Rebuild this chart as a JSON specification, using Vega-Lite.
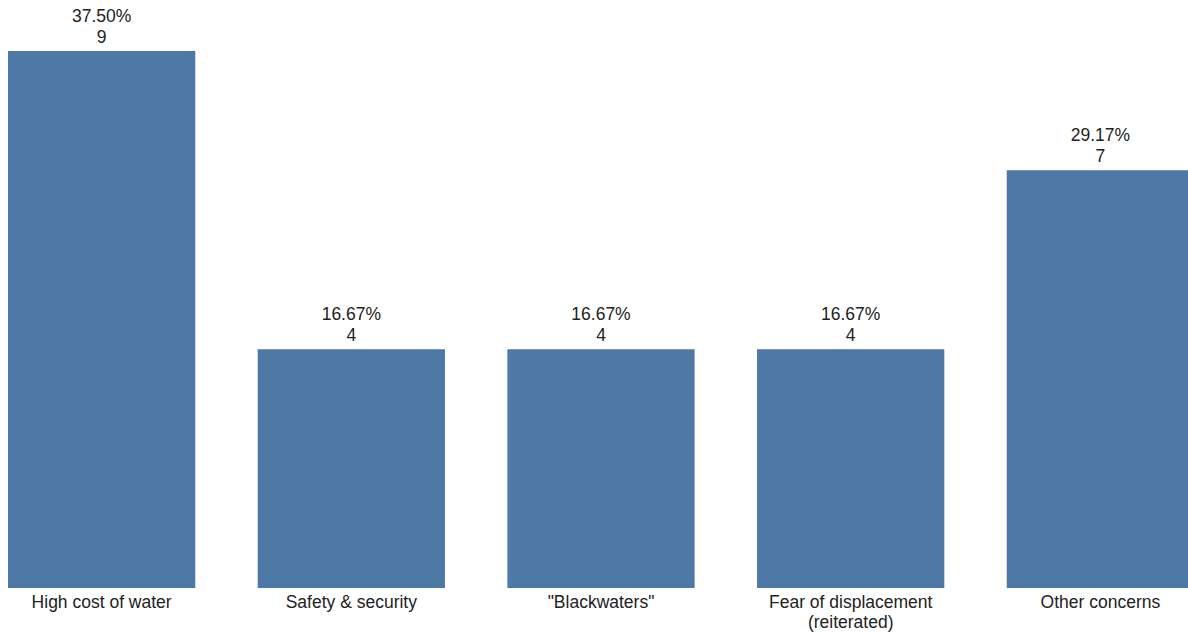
{
  "$schema": "https://vega.github.io/schema/vega-lite/v6.json",
  "width": 1186,
  "height": 537,
  "autosize": {"type": "none"},
  "padding": {"left": 8, "top": 51, "right": 0, "bottom": 46},
  "background": "#ffffff",
  "config": {"view": {"stroke": null}, "font": "Liberation Sans"},
  "data": {
    "values": [
      {"concern": "High cost of water", "count": 9, "pct": "37.50%"},
      {"concern": "Safety & security", "count": 4, "pct": "16.67%"},
      {"concern": "\"Blackwaters\"", "count": 4, "pct": "16.67%"},
      {"concern": "Fear of displacement (reiterated)", "count": 4, "pct": "16.67%"},
      {"concern": "Other concerns", "count": 7, "pct": "29.17%"}
    ]
  },
  "encoding": {
    "x": {
      "field": "concern",
      "type": "nominal",
      "sort": null,
      "scale": {"paddingInner": 0.25, "paddingOuter": 0},
      "axis": {
        "title": null,
        "domain": false,
        "ticks": false,
        "labelAngle": 0,
        "labelFontSize": 17.5,
        "labelColor": "#222222",
        "labelPadding": 5,
        "labelLineHeight": 20,
        "labelLimit": 0,
        "labelExpr": "datum.value == 'Fear of displacement (reiterated)' ? ['Fear of displacement', '(reiterated)'] : datum.value"
      }
    },
    "y": {
      "field": "count",
      "type": "quantitative",
      "scale": {"domain": [0, 9], "nice": false},
      "axis": null
    }
  },
  "layer": [
    {"mark": {"type": "bar", "color": "#4e78a6"}},
    {
      "mark": {"type": "text", "baseline": "alphabetic", "dy": -8, "fontSize": 17.5, "color": "#222222"},
      "encoding": {"text": {"field": "count", "type": "quantitative"}}
    },
    {
      "mark": {"type": "text", "baseline": "alphabetic", "dy": -29, "fontSize": 17.5, "color": "#222222"},
      "encoding": {"text": {"field": "pct", "type": "nominal"}}
    }
  ]
}
